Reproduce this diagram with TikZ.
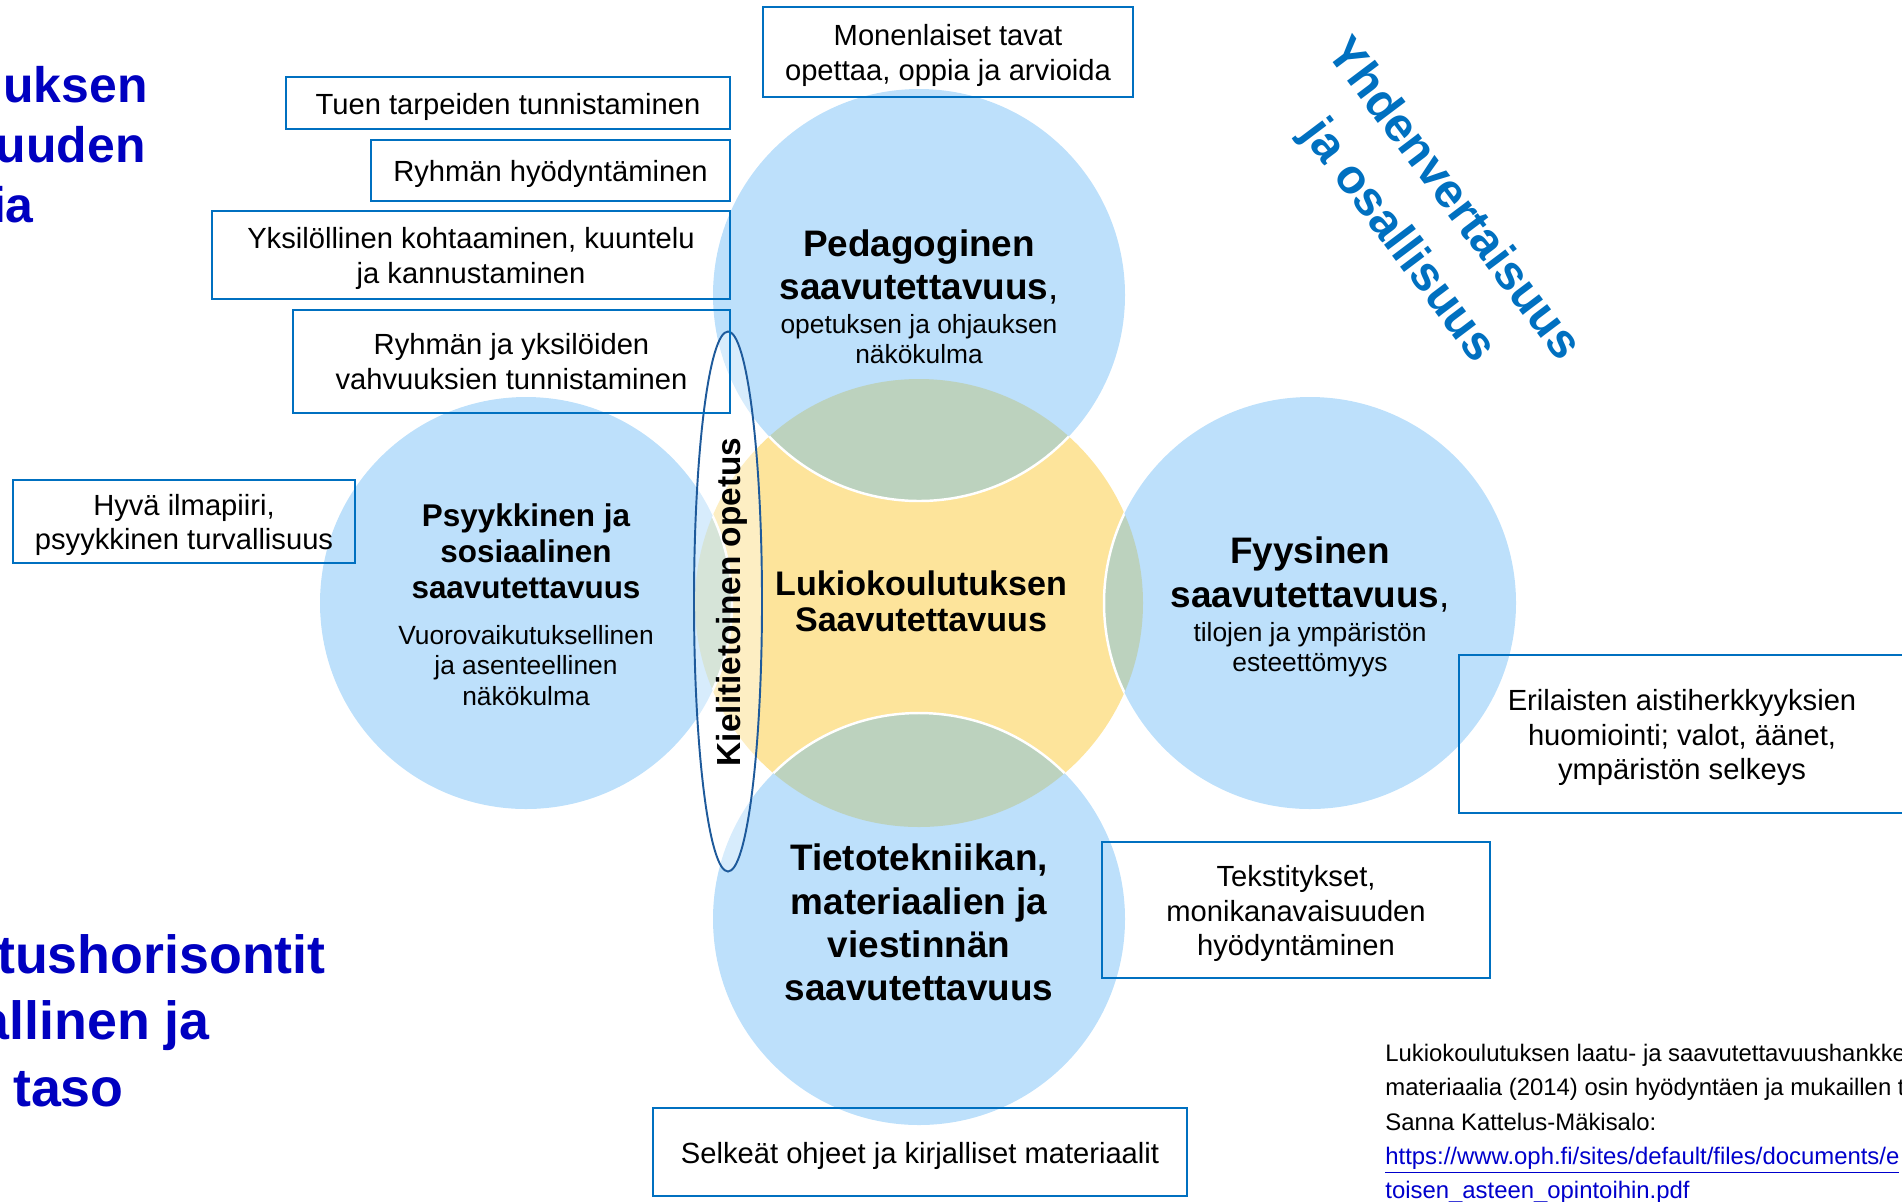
\documentclass[tikz,border=0pt]{standalone}
\usepackage{fontspec}
\setmainfont{Liberation Sans}
\usetikzlibrary{positioning}

\definecolor{boxblue}{RGB}{0,112,192}
\definecolor{circblue}{RGB}{189,224,251}
\definecolor{coreyellow}{RGB}{253,228,155}
\definecolor{lensgreen}{RGB}{188,210,190}
\definecolor{ovalblue}{RGB}{30,90,155}
\definecolor{headblue}{RGB}{0,0,192}
\definecolor{linkblue}{RGB}{0,0,204}

\newcommand{\pu}{0.02cm}
\newcommand{\boxstrut}{\rule{0pt}{16pt}}

\tikzset{
  infobox/.style={draw=boxblue, line width=1.3pt, align=center, inner sep=0pt,
    font=\fontsize{16.6}{19.8}\selectfont},
  areatitle/.style={align=center, inner sep=0pt, font=\fontsize{21}{24.7}\selectfont\bfseries},
  areasub/.style={align=center, inner sep=0pt, font=\fontsize{15}{17}\selectfont},
  sidehead/.style={anchor=base east, inner sep=0pt, text=headblue, font=\fontsize{28.4}{34}\selectfont\bfseries},
  sidefoot/.style={sidehead, font=\fontsize{30.6}{36}\selectfont\bfseries}
}

\begin{document}
\begin{tikzpicture}[x=0.02cm, y=-0.02cm]
    \clip (0,0) rectangle (1902,1201);
    % core circle and the four areas
    \fill[coreyellow] (919,603) circle [radius=224];
    \foreach \cx/\cy in {919/295, 526/603, 1310/603, 919/919} {
      \fill[circblue] (\cx,\cy) circle [radius=206];
      \begin{scope}
        \clip (919,603) circle [radius=224];
        \fill[lensgreen] (\cx,\cy) circle [radius=206];
        \draw[white, line width=1.4pt] (\cx,\cy) circle [radius=206];
      \end{scope}
    }
    % language aware oval
    \draw[ovalblue, line width=1.1pt, fill=white, fill opacity=0.4] (728,601.5) ellipse [x radius=34, y radius=270];
    \node[rotate=90, inner sep=0pt, font=\fontsize{19}{20}\selectfont\bfseries] (langaware) at (732,602) {Kielitietoinen opetus};
    % area texts
    \node[areatitle] (pedtitle) at (919,267) {Pedagoginen\\saavutettavuus\textmd{,}};
    \node[areasub, below=0.19cm of pedtitle] (pedsub) {opetuksen ja ohjauksen\\näkökulma};
    \node[areatitle, font=\fontsize{17.9}{20.6}\selectfont\bfseries] (psytitle) at (526,551.5) {Psyykkinen ja\\sosiaalinen\\saavutettavuus};
    \node[areasub, font=\fontsize{15}{17.5}\selectfont, below=0.5cm of psytitle] (psysub) {Vuorovaikutuksellinen\\ja asenteellinen\\näkökulma};
    \node[areatitle] (fyytitle) at (1310,574.5) {Fyysinen\\saavutettavuus\textmd{,}};
    \node[areasub, below=0.19cm of fyytitle] (fyysub) {tilojen ja ympäristön\\esteettömyys};
    \node[areatitle, font=\fontsize{19.4}{20.6}\selectfont\bfseries] (core) at (921,601.5) {Lukiokoulutuksen\\Saavutettavuus};
    \node[areatitle] (ictitle) at (919,922.5) {Tietotekniikan,\\materiaalien ja\\viestinnän\\saavutettavuus};
    % boxes
    \node[infobox, minimum width=370*\pu, minimum height=90*\pu] (teachways) at (948,52) {\boxstrut Monenlaiset tavat\\opettaa, oppia ja arvioida};
    \node[infobox, minimum width=444*\pu, minimum height=52*\pu] (supportneeds) at (508,103) {\boxstrut Tuen tarpeiden tunnistaminen};
    \node[infobox, minimum width=359*\pu, minimum height=61*\pu] (groupuse) at (550.5,170.5) {\boxstrut Ryhmän hyödyntäminen};
    \node[infobox, minimum width=518*\pu, minimum height=88*\pu] (individual) at (471,255) {\boxstrut Yksilöllinen kohtaaminen, kuuntelu\\ja kannustaminen};
    \node[infobox, minimum width=437*\pu, minimum height=103*\pu] (strengths) at (511.5,361.5) {Ryhmän ja yksilöiden\\vahvuuksien tunnistaminen};
    \node[infobox, minimum width=342*\pu, minimum height=83*\pu] (climate) at (184,521.5) {\boxstrut Hyvä ilmapiiri,\\psyykkinen turvallisuus};
    \node[infobox, minimum width=446*\pu, minimum height=158*\pu] (senses) at (1682,734) {\boxstrut Erilaisten aistiherkkyyksien\\huomiointi; valot, äänet,\\ympäristön selkeys};
    \node[infobox, minimum width=388*\pu, minimum height=136*\pu] (captions) at (1296,910) {\boxstrut Tekstitykset,\\monikanavaisuuden\\hyödyntäminen};
    \node[infobox, minimum width=534*\pu, minimum height=88*\pu] (instructions) at (920,1152) {\boxstrut Selkeät ohjeet ja kirjalliset materiaalit};
    % rotated heading
    \node[rotate=-53, align=center, inner sep=0pt, text=boxblue, font=\fontsize{27.4}{39}\selectfont\bfseries] (equality) at (1425,221) {Yhdenvertaisuus\\ja osallisuus};
    % cut headings at the left edge
    \node[sidehead] (headA) at (148,102) {uksen};
    \node[sidehead] (headB) at (146,162) {uuden};
    \node[sidehead] (headC) at (34,222) {ia};
    \node[sidefoot] (footA) at (326,973) {tushorisontit};
    \node[sidefoot] (footB) at (210,1039) {allinen ja};
    \node[sidefoot] (footC) at (124,1106) {taso};
    % source
    \node[anchor=north west, align=left, inner sep=0pt, font=\fontsize{13.6}{19.5}\selectfont] (source) at (1385,1044) {Lukiokoulutuksen laatu- ja saavutettavuushankke\\materiaalia (2014) osin hyödyntäen ja mukaillen t\\Sanna Kattelus-Mäkisalo:\\\textcolor{linkblue}{\underline{https://www.oph.fi/sites/default/files/documents/e}}\\\textcolor{linkblue}{\underline{toisen\_asteen\_opintoihin.pdf}}};
\end{tikzpicture}
\end{document}
